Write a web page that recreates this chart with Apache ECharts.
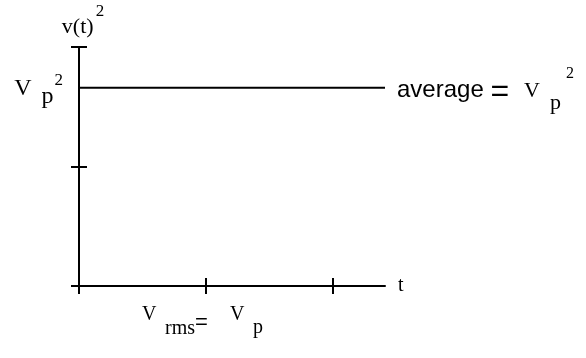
<!DOCTYPE html>
<html>
<head>
<meta charset="utf-8">
<script src="https://cdn.jsdelivr.net/npm/echarts@6/dist/echarts.min.js"></script>
<style>
  html, body { margin: 0; padding: 0; background: #fff; }
  #chart { width: 586px; height: 358px; }
</style>
</head>
<body>
<div id="chart"></div>
<script>
const xTicks = [0, 1, 2]
const yTicks = [0, 1, 2]
const xMax = 2.41
const yMax = 2
const avgT = [0, 2.41]
const avgV2 = [1.66, 1.66]
const avgLevel = [1.66]

const serif = 'Liberation Serif'
const sans = 'Liberation Sans'

// one rich text piece: its centre sits c px below the top of an h px box
function piece(family, size, c, h, left) {
  return {
    fontFamily: family,
    fontSize: size,
    fontWeight: 'normal',
    color: '#000',
    height: size,
    lineHeight: h,
    verticalAlign: 'top',
    padding: [Math.max(0, c + 2 - size / 2), 0, 0, left || 0]
  }
}

const black = { color: '#000', width: 2 }

function axisPair(dim, ticks, max, extra) {
  let outer = {
    type: 'value',
    min: 0,
    max: max,
    position: dim === 'x' ? 'bottom' : 'left',
    axisLine: { show: true, lineStyle: black },
    axisTick: { show: true, length: 8, lineStyle: black, customValues: ticks },
    axisLabel: { show: false },
    splitLine: { show: false }
  }
  let inner = {
    type: 'value',
    min: 0,
    max: max,
    position: dim === 'x' ? 'bottom' : 'left',
    axisLine: { show: false },
    axisTick: { show: true, inside: true, length: 8, lineStyle: black, customValues: ticks },
    axisLabel: { show: false },
    splitLine: { show: false }
  }
  return [Object.assign(outer, extra), inner]
}

let chart = echarts.init(document.getElementById('chart'))

let option = {
  animation: false,
  grid: { left: 79, top: 47, right: 201, bottom: 72, outerBoundsMode: 'none' },
  title: {
    text: '{a|V}{b|rms}{c|=}{d|V}{e|p}',
    left: 142,
    top: 300,
    padding: 0,
    textStyle: {
      fontWeight: 'normal',
      rich: {
        a: piece(serif, 20, 12.25, 40, 0),
        b: piece(serif, 20, 26.25, 40, 8.6),
        c: piece(sans, 22, 20.5, 40, 0),
        d: piece(serif, 20, 12.25, 40, 22),
        e: piece(serif, 20, 25.3, 40, 8.6)
      }
    }
  },
  xAxis: axisPair('x', xTicks, xMax, {
    name: 't',
    nameLocation: 'end',
    nameGap: 13,
    nameTextStyle: {
      fontFamily: serif,
      fontSize: 20,
      lineHeight: 20,
      color: '#000',
      padding: [0, 0, 8, 0]
    }
  }),
  yAxis: axisPair('y', yTicks, yMax, {
    name: '{a|v(t)}{b|2}',
    nameLocation: 'end',
    nameGap: 6,
    nameTextStyle: {
      rich: {
        a: piece(serif, 22, 24.6, 40, 8),
        b: piece(serif, 17, 8.5, 40, 2)
      }
    },
    axisLabel: {
      show: true,
      customValues: avgLevel,
      margin: 16,
      formatter: function () { return '{a|V}{b|p}{c|2}' },
      rich: {
        a: piece(serif, 24, 22.9, 48, 0),
        b: piece(serif, 24, 31.4, 48, 10),
        c: piece(serif, 17, 15.3, 48, 1)
      }
    }
  }),
  series: [
    {
      type: 'line',
      data: avgT.map((t, i) => [t, avgV2[i]]),
      showSymbol: false,
      lineStyle: black,
      silent: true,
      endLabel: {
        show: true,
        distance: 12,
        formatter: '{a|average }{b|=}{c|V}{d|p}{e|2}',
        rich: {
          a: piece(sans, 24, 24.7, 48, 0),
          b: piece(sans, 32, 27, 48, 0),
          c: piece(serif, 22, 25.6, 48, 15),
          d: piece(serif, 22, 37.6, 48, 10),
          e: piece(serif, 16, 8.6, 48, 5)
        }
      }
    }
  ]
}

chart.setOption(option)
</script>
</body>
</html>
